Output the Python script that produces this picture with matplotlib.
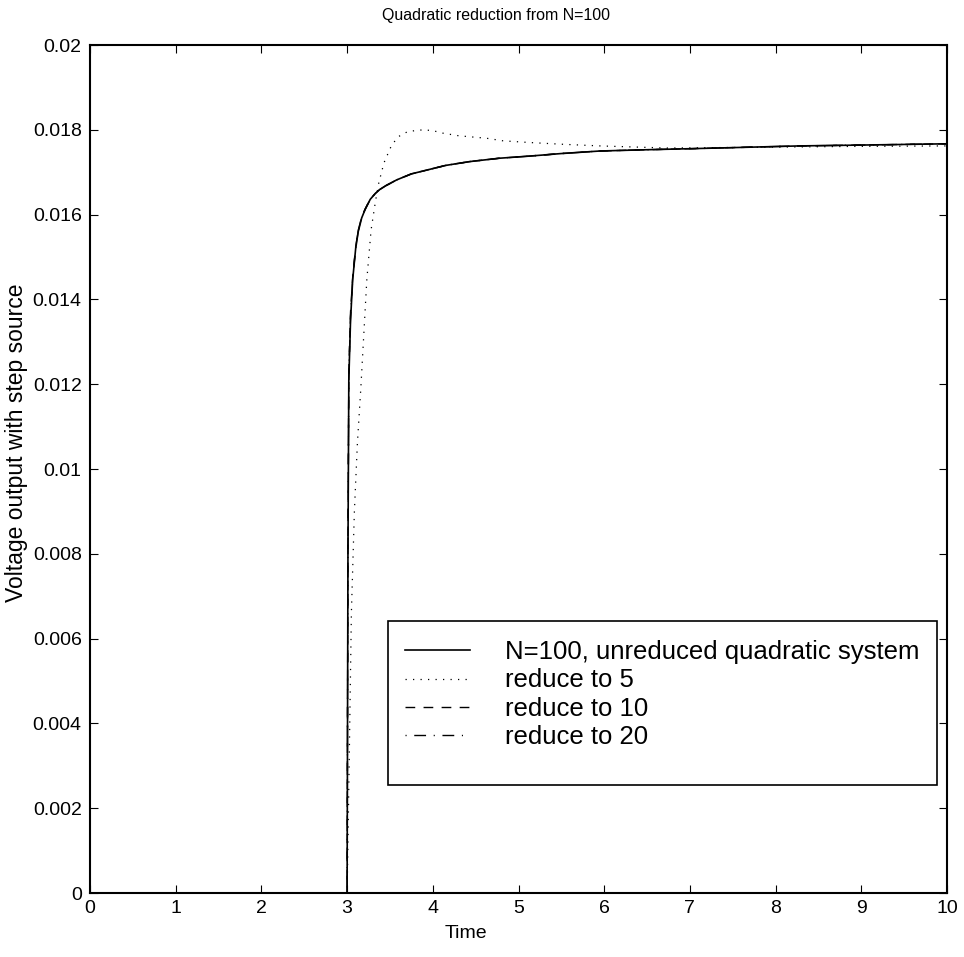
import matplotlib
matplotlib.use("Agg")
import matplotlib.pyplot as plt
from matplotlib.patches import Rectangle

plt.rcParams['font.family'] = ['Liberation Sans', 'DejaVu Sans']

# ---------------- data ----------------
t_full = [0.0, 3.0, 3.005, 3.01, 3.02, 3.04, 3.065, 3.1, 3.13, 3.17, 3.21, 3.27,
          3.33, 3.38, 3.45, 3.58, 3.75, 3.93, 4.15, 4.43, 4.78, 5.13, 5.5, 5.95,
          6.5, 7.12, 7.7, 8.28, 9.0, 10.0]
v_full = [0.0, 0.0, 0.0040, 0.0080, 0.0121, 0.0135, 0.01446, 0.01520, 0.01560,
          0.01592, 0.01612, 0.01636, 0.01650, 0.01659, 0.01668, 0.01682, 0.01696,
          0.01705, 0.01716, 0.01725, 0.01733, 0.01738, 0.01744, 0.0175, 0.01753,
          0.01756, 0.01759, 0.01762, 0.01764, 0.01767]

t_r5 = [0.0, 3.0, 3.01, 3.027, 3.05, 3.085, 3.12, 3.16, 3.23, 3.28, 3.33, 3.37,
        3.43, 3.52, 3.6, 3.7, 3.79, 3.89, 4.0, 4.12, 4.3, 4.63, 4.82, 5.13, 5.5,
        5.95, 6.73, 7.9, 9.0, 10.0]
v_r5 = [0.0, 0.0, 0.0012, 0.00345, 0.0066, 0.0090, 0.0106, 0.0119, 0.01446,
        0.01564, 0.01630, 0.01675, 0.01722, 0.01764, 0.01784, 0.01795, 0.01798,
        0.01800, 0.01798, 0.01792, 0.01786, 0.01780, 0.01774, 0.01770, 0.01766,
        0.01762, 0.01757, 0.01759, 0.01761, 0.01762]

t_r10 = [0.0, 3.0, 3.005, 3.01, 3.02, 3.04, 3.065, 3.1, 3.13, 3.17, 3.21, 3.27,
         3.33, 3.38, 3.45, 3.58, 3.75, 3.93, 4.15, 4.43, 4.78, 5.13, 5.5, 5.95,
         6.5, 7.12, 7.7, 8.28, 9.0, 10.0]
v_r10 = [0.0, 0.0, 0.0042, 0.0083, 0.0123, 0.0137, 0.01452, 0.01524, 0.01563,
         0.01594, 0.01613, 0.01637, 0.01650, 0.01659, 0.01668, 0.01682, 0.01696,
         0.01705, 0.01716, 0.01725, 0.01733, 0.01738, 0.01744, 0.0175, 0.01753,
         0.01756, 0.01759, 0.01762, 0.01764, 0.01767]

t_r20 = [0.0, 3.0, 3.005, 3.01, 3.02, 3.04, 3.065, 3.1, 3.13, 3.17, 3.21, 3.27,
         3.33, 3.38, 3.45, 3.58, 3.75, 3.93, 4.15, 4.43, 4.78, 5.13, 5.5, 5.95,
         6.5, 7.12, 7.7, 8.28, 9.0, 10.0]
v_r20 = [0.0, 0.0, 0.0041, 0.0081, 0.0122, 0.0136, 0.01448, 0.01521, 0.01562,
         0.01593, 0.01612, 0.01636, 0.01650, 0.01659, 0.01668, 0.01682, 0.01696,
         0.01705, 0.01716, 0.01725, 0.01733, 0.01738, 0.01744, 0.0175, 0.01753,
         0.01756, 0.01759, 0.01762, 0.01764, 0.01767]

labels = ["N=100, unreduced quadratic system", "reduce to 5",
          "reduce to 10", "reduce to 20"]
xticks = list(range(0, 11))
yticks = [0, 0.002, 0.004, 0.006, 0.008, 0.01, 0.012, 0.014, 0.016, 0.018, 0.02]
ytick_labels = ["0", "0.002", "0.004", "0.006", "0.008", "0.01", "0.012",
                "0.014", "0.016", "0.018", "0.02"]

# ---------------- figure ----------------
W, H = 964, 957
fig = plt.figure(figsize=(W/100, H/100), dpi=100)
AX_L, AX_R, AX_T, AX_B = 90, 947, 45, 893
ax = fig.add_axes([AX_L/W, 1 - AX_B/H, (AX_R-AX_L)/W, (AX_B-AX_T)/H])

def ax_x(px):
    return (px - AX_L) / (AX_R - AX_L)

def ax_y(py):
    return (AX_B - py) / (AX_B - AX_T)

l1, = ax.plot(t_full, v_full, color='black', lw=1.2, solid_joinstyle='round')
l2, = ax.plot(t_r5, v_r5, color='black', lw=0.9, linestyle=(0, (1, 5)))
l3, = ax.plot(t_r10, v_r10, color='black', lw=1.0, linestyle=(0, (7, 6)))
l4, = ax.plot(t_r20, v_r20, color='black', lw=1.0, linestyle=(0, (0.8, 5.5, 8.5, 5.5)))

ax.set_xlim(0, 10)
ax.set_ylim(0, 0.02)
ax.set_xticks(xticks)
ax.set_xticklabels([str(x) for x in xticks])
ax.set_yticks(yticks)
ax.set_yticklabels(ytick_labels)
ax.tick_params(direction='in', length=6, width=0.8, top=True, right=True,
               labelsize=14, pad=5, colors='black')
ax.tick_params(axis='y', pad=6)
for s in ax.spines.values():
    s.set_linewidth(1.5)

ax.set_title("Quadratic reduction from N=100", fontsize=11.5, pad=18, x=ax_x(496))
ax.set_xlabel("Time", fontsize=14)
ax.xaxis.set_label_coords(ax_x(466), ax_y(925))
ax.set_ylabel("Voltage output with step source", fontsize=16.5)
ax.yaxis.set_label_coords(ax_x(28), ax_y(443))

# legend frame drawn as a rectangle, entries placed inside
x0, x1 = ax_x(388), ax_x(937)
y0, y1 = ax_y(785), ax_y(621)
ax.add_patch(Rectangle((x0, y0), x1 - x0, y1 - y0, transform=ax.transAxes,
                       facecolor='white', edgecolor='black', lw=1.2, zorder=5))
leg = ax.legend([l1, l2, l3, l4], labels, loc='upper left',
                bbox_to_anchor=(ax_x(405), ax_y(640)), frameon=False,
                fontsize=18.5, handlelength=2.53, handletextpad=1.36,
                labelspacing=0.175, borderpad=0.0, borderaxespad=0)
leg.set_zorder(6)

fig.savefig("out.png", dpi=100, facecolor='white')
